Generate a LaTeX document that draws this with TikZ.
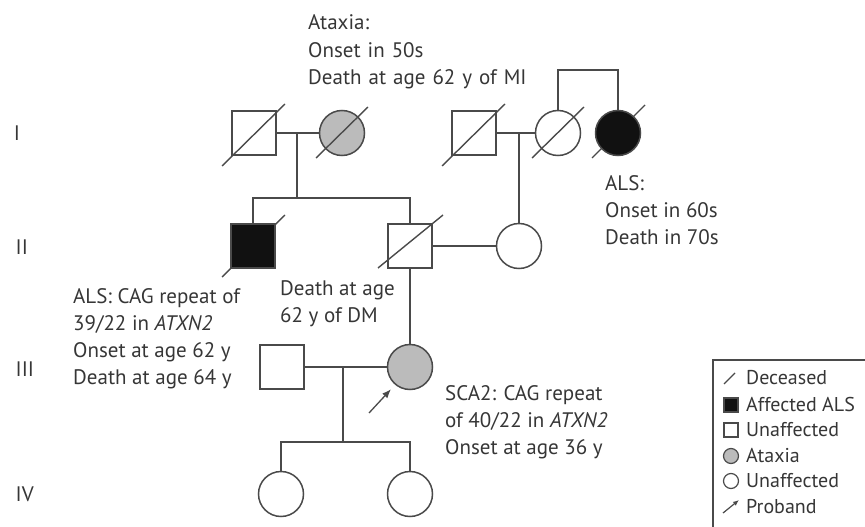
\documentclass[tikz,border=0pt]{standalone}
\usepackage{fontspec}
\setmainfont{PT Sans}
\usetikzlibrary{arrows.meta,calc,backgrounds}
\definecolor{ink}{HTML}{4A4A4A}
\definecolor{txt}{HTML}{363636}
\definecolor{ataxgray}{HTML}{BBBBBB}
\definecolor{alsblack}{HTML}{111111}
\begin{document}
\begin{tikzpicture}[x=1pt,y=-1pt,line width=1.5pt,
  male/.style={draw=ink,rectangle,minimum size=44pt,inner sep=0pt,line width=1.5pt},
  female/.style={draw=ink,circle,minimum size=45pt,inner sep=0pt,line width=1.5pt},
  grayfill/.style={fill=ataxgray},
  blackfill/.style={fill=alsblack},
  link/.style={draw=ink,line width=1.5pt},
  slashmark/.style={draw=ink,line width=1.4pt},
  lbl/.style={text=txt,font=\fontsize{21}{27}\selectfont,align=left,anchor=west,inner sep=0pt},
  gen/.style={text=txt,font=\fontsize{21}{24}\selectfont,anchor=west,inner sep=0pt},
  legtext/.style={text=txt,font=\fontsize{20}{24}\selectfont,anchor=west,inner sep=0pt},
  legsym/.style={draw=ink,line width=1.2pt,inner sep=0pt}]
\useasboundingbox (0,0) rectangle (865,527);
\clip (0,0) rectangle (865,527);

% generation labels
\node[gen] (gI) at (13,133) {I};
\node[gen] (gII) at (15,247) {II};
\node[gen] (gIII) at (15,369) {III};
\node[gen] (gIV) at (15,494) {IV};

% individuals
\node[male] (s11) at (254,133) {};
\node[female,grayfill] (c12) at (342,133) {};
\node[male] (s13) at (474,133) {};
\node[female] (c14) at (558,133) {};
\node[female,blackfill] (c15) at (618,133) {};
\node[male,blackfill] (s21) at (253,246) {};
\node[male] (s22) at (410,246) {};
\node[female] (c23) at (519,246) {};
\node[male] (s31) at (282,367) {};
\node[female,grayfill] (c32) at (410,367) {};
\node[female] (c41) at (281,494) {};
\node[female] (c42) at (410,494) {};

% deceased slashes
\draw[slashmark] ($(s11)+(-32,33)$) -- ($(s11)+(31,-29)$);
\draw[slashmark] ($(c12)+(-26,25)$) -- ($(c12)+(26,-26)$);
\draw[slashmark] ($(s13)+(-32,33)$) -- ($(s13)+(31,-29)$);
\draw[slashmark] ($(c14)+(-26,25)$) -- ($(c14)+(26,-26)$);
\draw[slashmark] ($(s22)+(-32,22)$) -- ($(s22)+(33,-31)$);
\begin{pgfonlayer}{background}
\draw[slashmark] ($(c15)+(-26,25)$) -- ($(c15)+(27,-28)$);
\draw[slashmark] ($(s21)+(-31,31)$) -- ($(s21)+(32,-31)$);
\end{pgfonlayer}

% connectors
\coordinate (d1) at (297,133);
\coordinate (sibII) at (297,198);
\coordinate (sibI) at (588,70);
\coordinate (d3) at (343,367);
\coordinate (sibIV) at (343,442);
\draw[link] (s11.east) -- (c12.west);
\draw[link] (d1) -- (sibII);
\draw[link] (s21.north) -- (s21.north |- sibII) -- (s22.north |- sibII) -- (s22.north);
\draw[link] (s13.east) -- (c14.west);
\draw[link] (c23.north |- s13.east) -- (c23.north);
\draw[link] (c14.north) -- (c14.north |- sibI) -- (c15.north |- sibI) -- (c15.north);
\draw[link] (s22.east) -- (c23.west);
\draw[link] (s22.south) -- (c32.north);
\draw[link] (s31.east) -- (c32.west);
\draw[link] (d3) -- (sibIV);
\draw[link] (c41.north) -- (c41.north |- sibIV) -- (c42.north |- sibIV) -- (c42.north);

% proband arrow
\coordinate (probtail) at (369,413);
\draw[draw=ink,line width=1.3pt,-{Latex[length=9pt,width=7pt]},shorten >=6pt] (probtail) -- (c32.230);

% annotations
\node[lbl,text width=240pt] (tAtax) at (308,52) {\baselineskip=28pt Ataxia:\\Onset in 50s\\Death at age 62 y of MI};
\node[lbl] (tALS1) at (605,210) {ALS:\\Onset in 60s\\Death in 70s};
\node[lbl] (tALS2) at (73,339) {ALS: CAG repeat of\\39/22 in \textit{ATXN2}\\Onset at age 62 y\\Death at age 64 y};
\node[lbl] (tDM) at (280,304) {Death at age\\62 y of DM};
\node[lbl] (tSCA) at (445,422) {SCA2: CAG repeat\\of 40/22 in \textit{ATXN2}\\Onset at age 36 y};

% legend
\draw[draw=ink,line width=1.3pt] (713,360) rectangle (900,560);
\draw[legsym] (724,384) -- (735,373);
\node[legsym,rectangle,fill=alsblack,minimum size=14pt] (lg2) at (731,405) {};
\node[legsym,rectangle,minimum size=14pt] (lg3) at (731,430) {};
\node[legsym,circle,fill=ataxgray,minimum size=15pt] (lg4) at (731,456) {};
\node[legsym,circle,minimum size=15pt] (lg5) at (731,481) {};
\draw[legsym,-{Latex[length=6pt,width=5pt]}] (723,513) -- (739,500);
\node[legtext] (lt1) at (746,378) {Deceased};
\node[legtext] (lt2) at (746,404) {Affected ALS};
\node[legtext] (lt3) at (746,430) {Unaffected};
\node[legtext] (lt4) at (746,456) {Ataxia};
\node[legtext] (lt5) at (746,481) {Unaffected};
\node[legtext] (lt6) at (746,507) {Proband};
\end{tikzpicture}
\end{document}
